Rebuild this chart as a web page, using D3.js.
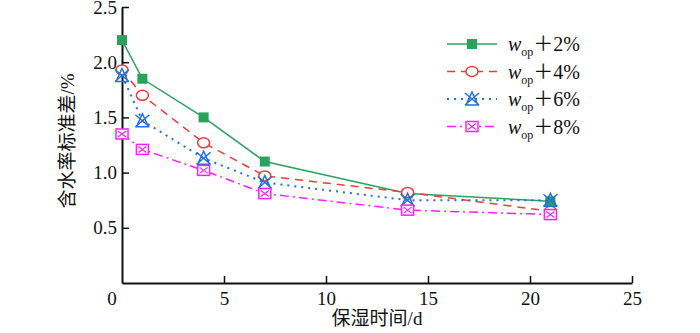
<!DOCTYPE html>
<meta charset="utf-8">
<style>
body{ margin: 0; background: #fff; }
svg text{ font-family: "Liberation Serif", "Times New Roman", "Noto Sans CJK SC", serif; fill: #111; }
</style>
<svg id="chart" width="700" height="333"></svg>
<script src="https://cdn.jsdelivr.net/npm/d3@7"></script>
<script>

// curing time (d) and moisture content standard deviation (%)
var days = [0, 1, 4, 7, 14, 21]
var plus2 = [2.2, 1.85, 1.5, 1.1, 0.81, 0.74]
var plus4 = [1.93, 1.7, 1.27, 0.97, 0.82, 0.65]
var plus6 = [1.88, 1.47, 1.13, 0.91, 0.75, 0.75]
var plus8 = [1.35, 1.21, 1.02, 0.81, 0.66, 0.62]
var seriesNames = ['+2%', '+4%', '+6%', '+8%']
var xTicks = [0, 5, 10, 15, 20, 25]
var yTicks = [0.5, 1.0, 1.5, 2.0, 2.5]

var svg = d3.select('#chart')

var x = d3.scaleLinear().domain([0, 25]).range([122, 632])
var y = d3.scaleLinear().domain([0, 2.5]).range([283, 7])

var series = [
  {name: seriesNames[0], vals: plus2, color: '#2ba25c', dash: null,   marker: 'square'},
  {name: seriesNames[1], vals: plus4, color: '#f03a3a', dash: '8,6',  marker: 'circle'},
  {name: seriesNames[2], vals: plus6, color: '#1f6fe0', dash: '2,5',  marker: 'cross'},
  {name: seriesNames[3], vals: plus8, color: '#ff1eff', dash: '9,4,2,4', marker: 'boxx'}
]

// axes: ticks point inward, no top/right frame
var xAxis = svg.append('g')
    .attr('transform', 'translate(0,' + y(0) + ')')
    .call(d3.axisBottom(x).tickValues(xTicks.slice(1)).tickSizeInner(-7).tickSizeOuter(0).tickFormat(d3.format('d')))
var yAxis = svg.append('g')
    .attr('transform', 'translate(' + x(0) + ',0)')
    .call(d3.axisLeft(y).tickValues(yTicks).tickSizeInner(-7).tickSizeOuter(0).tickFormat(d3.format('.1f')))

svg.selectAll('.domain').attr('stroke', '#111').attr('stroke-width', 2)
svg.selectAll('.tick line').attr('stroke', '#111').attr('stroke-width', 1.5)
xAxis.selectAll('.tick text').attr('y', 9).attr('dy', '0.71em').style('font-size', '19px')
yAxis.selectAll('.tick text').attr('x', -5).style('font-size', '19px')

// shared origin label
svg.append('text')
    .attr('x', 112).attr('y', 298).attr('dy', '0.35em')
    .attr('text-anchor', 'middle').style('font-size', '19px')
    .text('0')

svg.append('text')
    .attr('x', 377).attr('y', 325)
    .attr('text-anchor', 'middle').style('font-size', '19px')
    .text('保湿时间/d')

svg.append('text')
    .attr('transform', 'translate(74,141) rotate(-90)')
    .attr('text-anchor', 'middle').style('font-size', '19px')
    .text('含水率标准差/%')

function drawMarker(g, type, color){
  if (type == 'square'){
    g.append('rect').attr('x', -5).attr('y', -5).attr('width', 10).attr('height', 10)
        .attr('fill', color)
  } else if (type == 'circle'){
    g.append('ellipse').attr('rx', 6).attr('ry', 5)
        .attr('fill', '#fff').attr('stroke', color).attr('stroke-width', 1.5)
  } else if (type == 'cross'){
    g.append('path').attr('d', 'M-7,-6 L7,6 M-7,6 L7,-6 M-6,6 L0,-7 L6,6 Z')
        .attr('fill', 'none').attr('stroke', color).attr('stroke-width', 1.5)
  } else {
    g.append('rect').attr('x', -6).attr('y', -5).attr('width', 12).attr('height', 10)
        .attr('fill', '#fff').attr('stroke', color).attr('stroke-width', 1.5)
    g.append('path').attr('d', 'M-4,-3 L4,3 M-4,3 L4,-3')
        .attr('stroke', color).attr('stroke-width', 1.2)
  }
}

var line = d3.line()
    .x(function(d){ return x(d[0]) })
    .y(function(d){ return y(d[1]) })

series.forEach(function(s){
  var pts = days.map(function(d, i){ return [d, s.vals[i]] })
  svg.append('path')
      .datum(pts)
      .attr('d', line)
      .attr('fill', 'none')
      .attr('stroke', s.color)
      .attr('stroke-width', s.marker == 'cross' ? 2 : 1.5)
      .attr('stroke-dasharray', s.dash)
  pts.forEach(function(p){
    var g = svg.append('g').attr('transform', 'translate(' + x(p[0]) + ',' + y(p[1]) + ')')
    drawMarker(g, s.marker, s.color)
  })
})

// legend
var legend = svg.append('g').attr('transform', 'translate(447,44)')
series.forEach(function(s, i){
  var row = legend.append('g').attr('transform', 'translate(0,' + i * 27.5 + ')')
  row.append('line')
      .attr('x1', 0).attr('x2', 50)
      .attr('stroke', s.color)
      .attr('stroke-width', s.marker == 'cross' ? 2 : 1.5)
      .attr('stroke-dasharray', s.dash)
  drawMarker(row.append('g').attr('transform', 'translate(25,0)'), s.marker, s.color)
  var t = row.append('text').attr('x', 61).attr('y', 7).style('font-size', '20px')
  t.append('tspan').style('font-style', 'italic').text('w')
  t.append('tspan').attr('dy', 5).style('font-size', '12px').text('op')
  t.append('tspan').attr('dy', -5).text('＋' + s.name.slice(1))
})

</script>
